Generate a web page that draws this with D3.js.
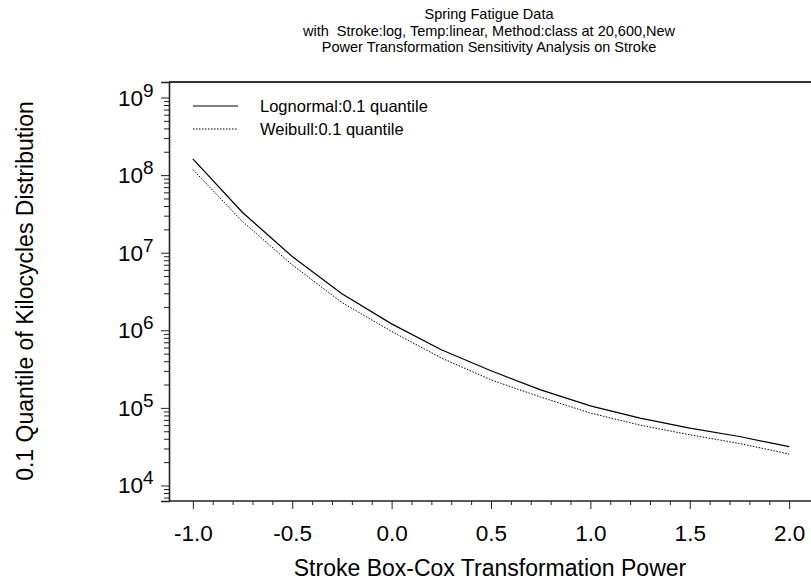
<!DOCTYPE html>
<html><head><meta charset="utf-8">
<script src="https://cdn.jsdelivr.net/npm/d3@7"></script>
<style>
html,body{margin:0;padding:0;background:#fff;}
svg{display:block;font-family:"Liberation Sans",Arial,sans-serif;}
</style></head>
<body>
<script>
const powers = [-1.0,-0.75,-0.5,-0.25,0.0,0.25,0.5,0.75,1.0,1.25,1.5,1.75,2.0];
const lognormal = [1.62e8,3.30e7,8.93e6,2.95e6,1.21e6,5.61e5,3.01e5,1.71e5,1.06e5,7.38e4,5.50e4,4.28e4,3.16e4];
const weibull   = [1.18e8,2.52e7,6.98e6,2.28e6,9.66e5,4.39e5,2.30e5,1.38e5,8.57e4,6.00e4,4.50e4,3.48e4,2.54e4];
const xTicks = [-1.0,-0.5,0.0,0.5,1.0,1.5,2.0];
const yExps = [4,5,6,7,8,9];
const titleLines = ["Spring Fatigue Data","with  Stroke:log, Temp:linear, Method:class at 20,600,New","Power Transformation Sensitivity Analysis on Stroke"];
const legendLabels = ["Lognormal:0.1 quantile","Weibull:0.1 quantile"];

const W=811,H=583;
const L=169,T=82,R=813,B=501;
const svg=d3.select("body").append("svg").attr("width",W).attr("height",H);
const x=d3.scaleLinear().domain([-1.12,2.12]).range([L,R]);
const y=d3.scaleLog().domain([Math.pow(10,3.8),Math.pow(10,9.2)]).range([B,T]);

// title
svg.append("g").selectAll("text").data(titleLines).join("text")
  .attr("x",489).attr("y",(d,i)=>19+i*16.5).attr("text-anchor","middle")
  .attr("font-size",14.5).attr("fill","#000").style("white-space","pre").text(d=>d);

// frame (top)
svg.append("line").attr("x1",L).attr("x2",W).attr("y1",T).attr("y2",T).attr("stroke","#333").attr("stroke-width",2);

// x axis
const xMinor=d3.range(-9,20).map(i=>i/10).filter(v=>Math.abs(v*2-Math.round(v*2))>1e-6);
const gx=svg.append("g").attr("transform",`translate(0,${B})`);
gx.call(d3.axisBottom(x).tickValues(xMinor).tickSize(4).tickFormat(""));
gx.select(".domain").remove();
gx.selectAll(".tick line").attr("stroke","#222");
const gx2=svg.append("g").attr("transform",`translate(0,${B})`);
gx2.call(d3.axisBottom(x).tickValues(xTicks).tickSize(8).tickPadding(16).tickFormat(d=>d3.format(".1f")(d).replace("\u2212","-")));
gx2.selectAll(".tick text").attr("font-size",22.5).attr("font-family","Liberation Sans, Arial, sans-serif").attr("fill","#000");
gx2.selectAll(".tick line").attr("stroke","#222");
gx2.select(".domain").attr("stroke","#222").attr("stroke-width",1.6).attr("d",`M${L},0H${W}`);

// y axis
const yMinor=[];
for(let e=3;e<=9;e++){for(let m=2;m<=9;m++){const v=m*Math.pow(10,e);if(v>=Math.pow(10,3.8)&&v<=Math.pow(10,9.2))yMinor.push(v);}}
const gy=svg.append("g").attr("transform",`translate(${L},0)`);
gy.call(d3.axisLeft(y).tickValues(yMinor).tickSize(5).tickFormat(""));
gy.select(".domain").remove();
gy.selectAll(".tick line").attr("stroke","#222");
const gy2=svg.append("g").attr("transform",`translate(${L},0)`);
gy2.call(d3.axisLeft(y).tickValues(yExps.map(e=>Math.pow(10,e))).tickSize(8).tickFormat(""));
gy2.select(".domain").attr("stroke","#222").attr("stroke-width",1.6);
gy2.selectAll(".tick line").attr("stroke","#222");
const lab=svg.append("g").selectAll("text").data(yExps).join("text")
  .attr("x",118).attr("y",e=>y(Math.pow(10,e))+8).attr("font-size",22.5).attr("fill","#000");
lab.append("tspan").text("10");
lab.append("tspan").attr("font-size",19).attr("dy",-9).text(e=>e);

// axis titles
svg.append("text").attr("x",490).attr("y",576).attr("text-anchor","middle").attr("font-size",23).attr("fill","#000").text("Stroke Box-Cox Transformation Power");
svg.append("text").attr("transform","translate(33,291) rotate(-90)").attr("text-anchor","middle").attr("font-size",23).attr("fill","#000").text("0.1 Quantile of Kilocycles Distribution");

// lines
const line=d3.line().x(d=>x(d[0])).y(d=>y(d[1]));
svg.append("path").datum(powers.map((p,i)=>[p,lognormal[i]])).attr("d",line).attr("fill","none").attr("stroke","#000").attr("stroke-width",1.2);
svg.append("path").datum(powers.map((p,i)=>[p,weibull[i]])).attr("d",line).attr("fill","none").attr("stroke","#000").attr("stroke-width",1).attr("stroke-dasharray","1.5,1.5");

// legend
const lg=svg.append("g");
lg.append("line").attr("x1",193).attr("x2",238).attr("y1",106).attr("y2",106).attr("stroke","#000").attr("stroke-width",1.2);
lg.append("line").attr("x1",193).attr("x2",238).attr("y1",129).attr("y2",129).attr("stroke","#000").attr("stroke-width",1).attr("stroke-dasharray","1.5,1.5");
lg.selectAll("text").data(legendLabels).join("text").attr("x",260).attr("y",(d,i)=>112+i*23).attr("font-size",16.5).attr("fill","#000").text(d=>d);
</script>
</body></html>
